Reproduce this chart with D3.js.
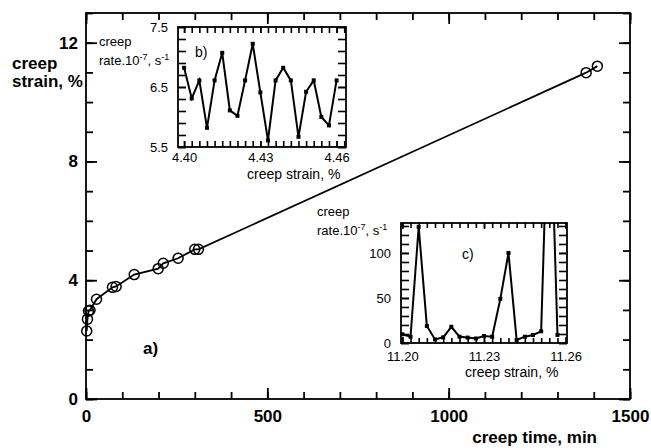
<!DOCTYPE html>
<html>
<head>
<meta charset="utf-8">
<script src="https://cdn.jsdelivr.net/npm/d3@7"></script>
<style>
  body { margin: 0; background: #fff; }
  text { font-family: "Liberation Sans", Arial, Helvetica, sans-serif; fill: #000; }
</style>
</head>
<body>
<div id="chart"></div>
<script>
// main curve a): creep time (min) vs creep strain (%)
const creepTime = [2, 4, 7, 11, 29, 73, 83, 133, 199, 213, 254, 300, 310, 1379, 1410];
const creepStrain = [2.29, 2.69, 2.96, 2.99, 3.36, 3.76, 3.79, 4.19, 4.39, 4.57, 4.74, 5.04, 5.04, 10.99, 11.21];
const mainXTicks = [0, 500, 1000, 1500];
const mainYTicks = [0, 4, 8, 12];

// inset b): creep rate around 4.4 % strain
const strainB = [4.400, 4.403, 4.406, 4.409, 4.412, 4.415, 4.418, 4.421, 4.424, 4.427, 4.430,
                 4.433, 4.436, 4.439, 4.442, 4.445, 4.448, 4.451, 4.454, 4.457, 4.460];
const rateB = [6.82, 6.31, 6.61, 5.82, 6.61, 7.07, 6.11, 6.02, 6.61, 7.22, 6.41,
               5.61, 6.61, 6.82, 6.61, 5.67, 6.42, 6.61, 6.00, 5.86, 6.61];
const bXTicks = [4.40, 4.43, 4.46];
const bYTicks = [5.5, 6.5, 7.5];

// inset c): creep rate around 11.2 % strain (one point runs off the top)
const strainC = [11.200, 11.203, 11.206, 11.209, 11.212, 11.215, 11.218, 11.221, 11.224, 11.227,
                 11.230, 11.233, 11.236, 11.239, 11.242, 11.245, 11.248, 11.251, 11.254, 11.257];
const rateC = [9.7, 7, 129, 19, 4, 6.3, 18, 7, 6, 5,
               7.8, 7, 49, 100, 3.3, 7, 8.9, 13, 310, 9];
const cXTicks = [11.20, 11.23, 11.26];
const cYTicks = [0, 50, 100];

const width = 651;
const height = 448;

const svg = d3.select("#chart")
  .append("svg")
  .attr("width", width)
  .attr("height", height);

// draws inward ticks on all four sides, labels only bottom and left
function boxAxes(g, x, y, o) {
  const [xl, xr] = x.range();
  const [yb, yt] = y.range();
  const sides = [
    [d3.axisBottom, x, `translate(0,${yb})`, "x", true],
    [d3.axisTop, x, `translate(0,${yt})`, "x", false],
    [d3.axisLeft, y, `translate(${xl},0)`, "y", true],
    [d3.axisRight, y, `translate(${xr},0)`, "y", false]
  ];
  sides.forEach(([axis, sc, tr, dim, lab]) => {
    // minor ticks
    g.append("g").attr("transform", tr)
      .call(axis(sc).tickValues(dim == "x" ? o.xMinor : o.yMinor)
        .tickSize(-o[dim + "MinorLen"]).tickFormat(""))
      .call(s => s.select(".domain").remove());
    // major ticks + labels
    g.append("g").attr("transform", tr)
      .call(axis(sc).tickValues(dim == "x" ? o.xMajor : o.yMajor)
        .tickSize(-o[dim + "MajorLen"])
        .tickPadding(dim == "x" ? o.xPad : o.yPad)
        .tickFormat(lab ? (dim == "x" ? o.xFmt : o.yFmt) : ""))
      .attr("font-size", o.fontSize)
      .attr("font-weight", o.fontWeight)
      .call(s => s.select(".domain").remove());
  });
  g.selectAll(".tick line").attr("stroke", "#000").attr("stroke-width", o.tickWidth);
}

/* main plot */

const x = d3.scaleLinear().domain([0, 1500]).range([86, 630]);
const y = d3.scaleLinear().domain([0, 13]).range([399, 13]);

const gMain = svg.append("g");
boxAxes(gMain, x, y, {
  xMajor: mainXTicks, xMinor: d3.range(0, 1501, 100),
  yMajor: mainYTicks, yMinor: d3.range(0, 14, 1),
  xMajorLen: 11, xMinorLen: 7, yMajorLen: 11, yMinorLen: 7,
  xPad: 11, yPad: 8, xFmt: d3.format("d"), yFmt: d3.format("d"),
  fontSize: 17, fontWeight: "bold", tickWidth: 1.8
});

const mainData = creepTime.map((t, i) => ({t: t, s: creepStrain[i]}));

gMain.append("path")
  .datum(mainData)
  .attr("fill", "none")
  .attr("stroke", "#000")
  .attr("stroke-width", 1.8)
  .attr("d", d3.line().x(d => x(d.t)).y(d => y(d.s)));

gMain.selectAll(".pt")
  .data(mainData)
  .enter()
  .append("circle")
    .attr("class", "pt")
    .attr("cx", d => x(d.t))
    .attr("cy", d => y(d.s))
    .attr("r", 5)
    .attr("fill", "none")
    .attr("stroke", "#000")
    .attr("stroke-width", 1.5);

gMain.append("rect")
  .attr("x", 86).attr("y", 13)
  .attr("width", 630 - 86).attr("height", 399 - 13)
  .attr("fill", "none").attr("stroke", "#000").attr("stroke-width", 1.8);

svg.append("text").attr("x", 12).attr("y", 69)
  .attr("font-size", 17).attr("font-weight", "bold").text("creep");
svg.append("text").attr("x", 12).attr("y", 87)
  .attr("font-size", 17).attr("font-weight", "bold").text("strain, %");
svg.append("text").attr("x", 597).attr("y", 443).attr("text-anchor", "end")
  .attr("font-size", 17).attr("font-weight", "bold").text("creep time, min");
svg.append("text").attr("x", 143).attr("y", 354)
  .attr("font-size", 17).attr("font-weight", "bold").text("a)");

/* insets */

function rateLabel(px, py) {
  svg.append("text").attr("x", px).attr("y", py).attr("font-size", 13).text("creep");
  const t = svg.append("text").attr("x", px).attr("y", py + 19).attr("font-size", 13);
  t.append("tspan").text("rate.10");
  t.append("tspan").attr("dy", -5).attr("font-size", 9).text("-7");
  t.append("tspan").attr("dy", 5).text(", s");
  t.append("tspan").attr("dy", -5).attr("font-size", 9).text("-1");
}

function inset(xs, ys, xv, yv, o) {
  const g = svg.append("g");
  const [xl, xr] = xs.range();
  const [yb, yt] = ys.range();
  g.append("rect")
    .attr("x", xl).attr("y", yt).attr("width", xr - xl).attr("height", yb - yt)
    .attr("fill", "#fff");
  boxAxes(g, xs, ys, o);

  const clipId = "clip" + o.name;
  g.append("clipPath").attr("id", clipId)
    .append("rect")
    .attr("x", xl).attr("y", yt).attr("width", xr - xl).attr("height", yb - yt);

  const data = xv.map((v, i) => ({x: v, y: yv[i]}));
  g.append("path")
    .datum(data)
    .attr("clip-path", `url(#${clipId})`)
    .attr("fill", "none")
    .attr("stroke", "#000")
    .attr("stroke-width", 2)
    .attr("d", d3.line().x(d => xs(d.x)).y(d => ys(d.y)));

  g.selectAll(".sq")
    .data(data.filter(d => d.y <= ys.domain()[1]))
    .enter()
    .append("rect")
      .attr("class", "sq")
      .attr("x", d => xs(d.x) - 2)
      .attr("y", d => ys(d.y) - 2)
      .attr("width", 4)
      .attr("height", 4)
      .attr("fill", "#000");

  g.append("rect")
    .attr("x", xl).attr("y", yt).attr("width", xr - xl).attr("height", yb - yt)
    .attr("fill", "none").attr("stroke", "#000").attr("stroke-width", 1.8);
  return g;
}

// b)
const xB = d3.scaleLinear().domain([4.3976, 4.4637]).range([178, 346]);
const yB = d3.scaleLinear().domain([5.5, 7.5]).range([147, 27]);
inset(xB, yB, strainB, rateB, {
  name: "b",
  xMajor: bXTicks, xMinor: d3.range(4.400, 4.4635, 0.003),
  yMajor: bYTicks, yMinor: d3.range(5.5, 7.51, 0.2),
  xMajorLen: 6, xMinorLen: 6, yMajorLen: 8, yMinorLen: 8,
  xPad: 6, yPad: 10, xFmt: d3.format(".2f"), yFmt: d3.format(".1f"),
  fontSize: 13, fontWeight: "normal", tickWidth: 1.6
});
rateLabel(99, 46);
svg.append("text").attr("x", 195).attr("y", 57).attr("font-size", 14).text("b)");
svg.append("text").attr("x", 247).attr("y", 179).attr("font-size", 14).text("creep strain, %");

// c)
const xC = d3.scaleLinear().domain([11.1995, 11.2605]).range([401, 567]);
const yC = d3.scaleLinear().domain([0, 133.3]).range([343, 223]);
inset(xC, yC, strainC, rateC, {
  name: "c",
  xMajor: cXTicks, xMinor: d3.range(11.200, 11.2605, 0.003),
  yMajor: cYTicks, yMinor: d3.range(0, 131, 10),
  xMajorLen: 6, xMinorLen: 5, yMajorLen: 8, yMinorLen: 8,
  xPad: 9, yPad: 10, xFmt: d3.format(".2f"), yFmt: d3.format("d"),
  fontSize: 13, fontWeight: "normal", tickWidth: 1.6
});
rateLabel(317, 216);
svg.append("text").attr("x", 462).attr("y", 259).attr("font-size", 14).text("c)");
svg.append("text").attr("x", 465).attr("y", 377).attr("font-size", 14).text("creep strain, %");
</script>
</body>
</html>
